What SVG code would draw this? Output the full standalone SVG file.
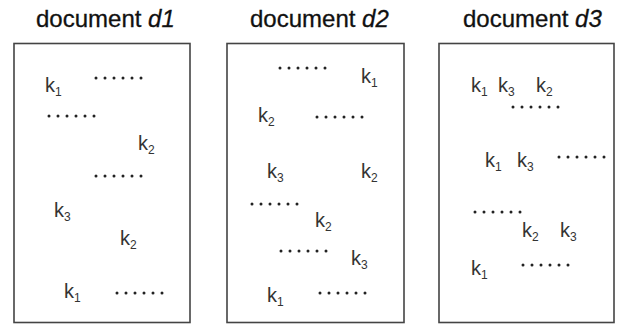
<svg xmlns="http://www.w3.org/2000/svg" width="618" height="324" viewBox="0 0 618 324">
  <style>
    .title { font-family: "Liberation Sans", Arial, sans-serif; font-size: 24px; fill: #111; stroke: #111; stroke-width: 0.3; }
    .title tspan.i { font-style: italic; }
    .box { fill: #fff; stroke: #444; stroke-width: 1.6; }
    .k { font-family: "Liberation Sans", Arial, sans-serif; font-size: 20px; fill: #333; }
    .k tspan { font-size: 12px; }
    .dots { stroke: #222; stroke-width: 3; stroke-linecap: round; stroke-dasharray: 0 9; fill: none; }
  </style>
  <rect width="618" height="324" fill="#fff"/>

  <!-- document d1 -->
  <g id="doc-d1">
    <text class="title" x="36" y="27">document <tspan class="i">d1</tspan></text>
    <rect class="box" x="14" y="43.5" width="176" height="279"/>
    <text class="k" x="45" y="92">k<tspan dy="4">1</tspan></text>
    <line class="dots" x1="96" y1="78" x2="142" y2="78"/>
    <line class="dots" x1="49" y1="116" x2="95" y2="116"/>
    <text class="k" x="138" y="150">k<tspan dy="4">2</tspan></text>
    <line class="dots" x1="96" y1="176" x2="142" y2="176"/>
    <text class="k" x="54" y="217">k<tspan dy="4">3</tspan></text>
    <text class="k" x="120" y="245">k<tspan dy="4">2</tspan></text>
    <text class="k" x="64" y="298">k<tspan dy="4">1</tspan></text>
    <line class="dots" x1="117" y1="293" x2="163" y2="293"/>
  </g>

  <!-- document d2 -->
  <g id="doc-d2">
    <text class="title" x="250" y="27">document <tspan class="i">d2</tspan></text>
    <rect class="box" x="227" y="43.5" width="177" height="279"/>
    <line class="dots" x1="280" y1="68" x2="326" y2="68"/>
    <text class="k" x="361" y="83">k<tspan dy="4">1</tspan></text>
    <text class="k" x="258" y="122">k<tspan dy="4">2</tspan></text>
    <line class="dots" x1="317" y1="117" x2="363" y2="117"/>
    <text class="k" x="267" y="178">k<tspan dy="4">3</tspan></text>
    <text class="k" x="361" y="178">k<tspan dy="4">2</tspan></text>
    <line class="dots" x1="252" y1="204" x2="298" y2="204"/>
    <text class="k" x="315" y="227">k<tspan dy="4">2</tspan></text>
    <line class="dots" x1="281" y1="251" x2="327" y2="251"/>
    <text class="k" x="351" y="265">k<tspan dy="4">3</tspan></text>
    <text class="k" x="267" y="302">k<tspan dy="4">1</tspan></text>
    <line class="dots" x1="320" y1="293" x2="366" y2="293"/>
  </g>

  <!-- document d3 -->
  <g id="doc-d3">
    <text class="title" x="463" y="27">document <tspan class="i">d3</tspan></text>
    <rect class="box" x="439" y="43.5" width="175" height="279"/>
    <text class="k" x="471" y="92">k<tspan dy="4">1</tspan></text>
    <text class="k" x="498" y="92">k<tspan dy="4">3</tspan></text>
    <text class="k" x="536" y="92">k<tspan dy="4">2</tspan></text>
    <line class="dots" x1="513" y1="107" x2="559" y2="107"/>
    <text class="k" x="485" y="167">k<tspan dy="4">1</tspan></text>
    <text class="k" x="517" y="167">k<tspan dy="4">3</tspan></text>
    <line class="dots" x1="559" y1="157" x2="605" y2="157"/>
    <line class="dots" x1="475" y1="212" x2="521" y2="212"/>
    <text class="k" x="522" y="237">k<tspan dy="4">2</tspan></text>
    <text class="k" x="560" y="237">k<tspan dy="4">3</tspan></text>
    <text class="k" x="471" y="275">k<tspan dy="4">1</tspan></text>
    <line class="dots" x1="523" y1="265" x2="569" y2="265"/>
  </g>
</svg>
